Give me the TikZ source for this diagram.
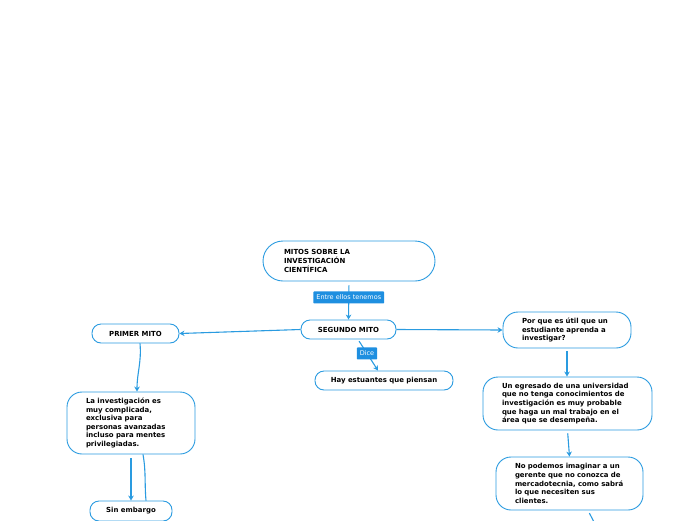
\documentclass[tikz,border=0pt]{standalone}
\usepackage{fontspec}
\setmainfont{DejaVu Sans}
\usetikzlibrary{arrows.meta}
\definecolor{bcol}{HTML}{2A9BE0}
\definecolor{lcol}{HTML}{1E8FE0}
\tikzset{
  box/.style={draw=bcol, line width=0.9pt, fill=white, rounded corners=#1,
    font=\bfseries\fontsize{6.95}{8.6}\selectfont, text=black, align=left,
    inner ysep=2pt},
  cbox/.style={draw=bcol, line width=0.9pt, fill=white, rounded corners=#1,
    font=\bfseries\fontsize{6.95}{8.6}\selectfont, text=black, align=center,
    inner sep=0pt},
  conn/.style={draw=bcol, line width=1.1pt},
  arr/.style={conn, -{Stealth[length=5pt,width=5.5pt]}},
  lbl/.style={fill=lcol, text=white, font=\fontsize{6.5}{7}\selectfont,
    inner xsep=3pt, inner ysep=0pt, minimum height=12pt, rounded corners=0.8pt}
}
\begin{document}
\begin{tikzpicture}[x=1pt,y=-1pt]
\useasboundingbox (0,0) rectangle (696,520);
\clip (0,0) rectangle (696,520);

\node[box=20pt, minimum width=172pt, minimum height=40pt, text width=130pt, inner xsep=21pt]
  (m) at (349,261) {MITOS SOBRE LA\\INVESTIGACIÓN\\CIENTÍFICA};
\node[cbox=9pt, minimum width=95pt, minimum height=19pt] (s) at (348.5,329.5) {SEGUNDO MITO};
\node[cbox=9pt, minimum width=87pt, minimum height=19pt] (p) at (135.5,333.5) {PRIMER MITO};
\node[cbox=9pt, minimum width=138pt, minimum height=19pt] (h) at (384,380.5) {Hay estuantes que piensan};
\node[box=15pt, minimum width=128pt, minimum height=36pt, text width=90pt, inner xsep=19pt]
  (q) at (567,330) {Por que es útil que un\\estudiante aprenda a\\investigar?};
\node[box=15pt, minimum width=128pt, minimum height=62pt, text width=90pt, inner xsep=19pt]
  (l) at (131,423) {La investigación es\\muy complicada,\\exclusiva para\\personas avanzadas\\incluso para mentes\\privilegiadas.};
\node[cbox=9pt, minimum width=82pt, minimum height=20pt] (se) at (131,511) {Sin embargo};
\node[box=15pt, minimum width=169pt, minimum height=53pt, text width=131pt, inner xsep=19pt]
  (e) at (567.5,403.5) {Un egresado de una universidad\\que no tenga conocimientos de\\investigación es muy probable\\que haga un mal trabajo en el\\área que se desempeña.};
\node[box=15pt, minimum width=147pt, minimum height=53pt, text width=109pt, inner xsep=19pt]
  (n) at (569.5,483.5) {No podemos imaginar a un\\gerente que no conozca de\\mercadotecnia, como sabrá\\lo que necesiten sus\\clientes.};
\coordinate (off) at (595,524);

\draw[arr, shorten <=4pt] (m.south) -- node[lbl, pos=0.42] (le) {Entre ellos tenemos} (s.north);
\draw[arr] (s.west) -- (p.east);
\draw[arr] (s.east) -- (q.west);
\draw[arr, shorten <=2pt] ([xshift=9.5pt]s.south) -- node[lbl, pos=0.45] (ld) {Dice} ([xshift=-6pt]h.north);
\draw[arr] ([xshift=4.5pt]p.south) to[out=-85,in=90] ([xshift=6pt]l.north);
\draw[arr, shorten <=4pt] (l.south) -- (se.north);
\draw[conn] ([xshift=12pt]l.south) to[out=-80,in=95] ([xshift=15pt]se.north);
\draw[arr, shorten <=3pt] (q.south) -- (q.south |- e.north);
\draw[arr, shorten <=3pt] (e.south) -- (n.north);
\draw[conn, shorten <=3pt] ([xshift=18.5pt]n.south) -- (off);
\end{tikzpicture}
\end{document}
